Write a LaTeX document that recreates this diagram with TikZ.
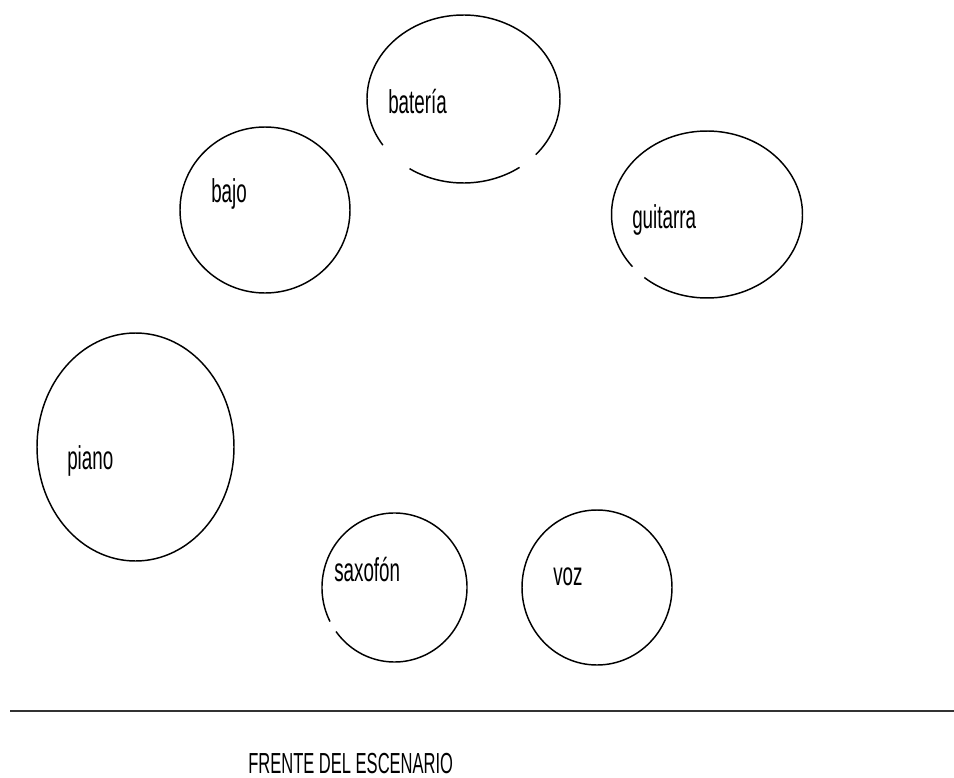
\documentclass[tikz,border=0pt]{standalone}
\usepackage{fontspec}
\newfontfamily\stagefont[FakeStretch=0.57]{Liberation Sans}
\usepackage{tikz}
\tikzset{
  spot/.style={draw=black, line width=1.1pt},
  lbl/.style={anchor=base west, inner sep=0pt, font=\stagefont\fontsize{24.75}{28}\selectfont},
  front/.style={draw=black!80, line width=1.9pt},
  ftxt/.style={anchor=base west, inner sep=0pt, font=\stagefont\fontsize{21.75}{24}\selectfont}
}

\begin{document}
\begin{tikzpicture}[x=0.75pt, y=-0.75pt]
\useasboundingbox (0,0) rectangle (954,778);
% instruments
\draw[spot] (463.5,99) ++(54.5:96.5 and 84) arc[start angle=54.5, end angle=124, x radius=96.5, y radius=84];
\draw[spot] (463.5,99) ++(146.7:96.5 and 84) arc[start angle=146.7, end angle=401.5, x radius=96.5, y radius=84];
\draw[spot] (265,210) ellipse[x radius=85, y radius=83];
\draw[spot] (707,214.5) ++(141.3:95.5 and 83.5) arc[start angle=141.3, end angle=491, x radius=95.5, y radius=83.5];
\draw[spot] (135.5,447) ellipse[x radius=98.5, y radius=114];
\draw[spot] (394.5,587.5) ++(152.8:72.5 and 74.5) arc[start angle=152.8, end angle=503.8, x radius=72.5, y radius=74.5];
\draw[spot] (597,587.5) ellipse[x radius=75, y radius=77.5];
\node[lbl] (bat) at (388,113) {batería};
\node[lbl] (baj) at (211,202) {bajo};
\node[lbl] (gui) at (632,228) {guitarra};
\node[lbl] (pia) at (67,469) {piano};
\node[lbl] (sax) at (334,581) {saxofón};
\node[lbl] (voz) at (553,585) {voz};
% front of stage
\coordinate (fl) at (10,711); \coordinate (fr) at (954,711);
\draw[front] (fl) -- (fr);
\node[ftxt] (frente) at (248,773) {FRENTE DEL ESCENARIO};
\end{tikzpicture}
\end{document}
